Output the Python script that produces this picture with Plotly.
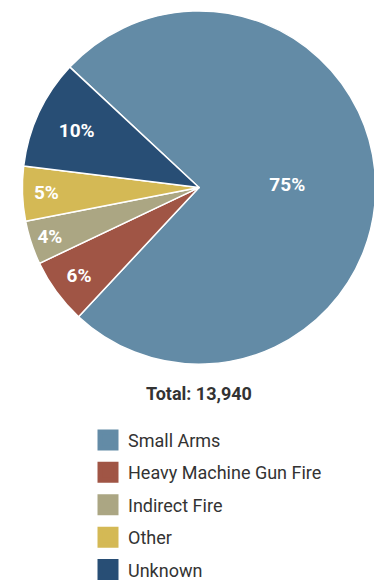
import plotly.graph_objects as go

labels = ["Small Arms", "Heavy Machine Gun Fire", "Indirect Fire", "Other", "Unknown"]
counts = [10455, 836, 558, 697, 1394]
colors = ["#638BA6", "#A05545", "#ABA683", "#D4B955", "#284E75"]
total_text = "Total: 13,940"

FONT = "Roboto, Arial, sans-serif"
W, H = 382, 580
DX = 8  # page renders ~8px to the right, compensate

fig = go.Figure()
fig.add_trace(
    go.Pie(
        labels=labels,
        values=counts,
        sort=False,
        direction="clockwise",
        rotation=-47,
        marker=dict(colors=colors, line=dict(color="white", width=1.5)),
        texttemplate="<b>%{percent:.0%}</b>",
        textposition="inside",
        insidetextorientation="horizontal",
        textfont=dict(color="white", size=19, family=FONT),
        domain=dict(x=[(20 - DX) / W, (378 - DX) / W], y=[1 - 365 / H, 1 - 3 / H]),
        showlegend=False,
        hoverinfo="label+value+percent",
    )
)

# legend entries as empty square-marker traces so icons can be bigger
for i, (lab, col) in enumerate(zip(labels, colors)):
    fig.add_trace(
        go.Scatter(
            x=[None], y=[None], mode="markers", name=lab,
            legendgroup=f"g{i}",
            marker=dict(symbol="square", size=16, color=col, line=dict(color=col, width=5)),
        )
    )

fig.update_layout(
    width=W, height=H,
    margin=dict(l=0, r=0, t=0, b=0),
    paper_bgcolor="white", plot_bgcolor="white",
    xaxis=dict(visible=False), yaxis=dict(visible=False),
    font=dict(family=FONT, color="#333333"),
    legend=dict(
        x=(88 - DX) / W, xanchor="left", y=1 - 424 / H, yanchor="top",
        font=dict(size=18, family=FONT, color="#333333"),
        itemsizing="trace", tracegroupgap=6,
        bgcolor="rgba(0,0,0,0)",
    ),
    annotations=[
        dict(
            text=f"<b>{total_text}</b>", x=(199 - DX) / W, y=1 - 395 / H,
            xref="paper", yref="paper", xanchor="center", yanchor="middle",
            showarrow=False,
            font=dict(size=18, family=FONT, color="#333333"),
        )
    ],
)

fig.write_html("out.html")
